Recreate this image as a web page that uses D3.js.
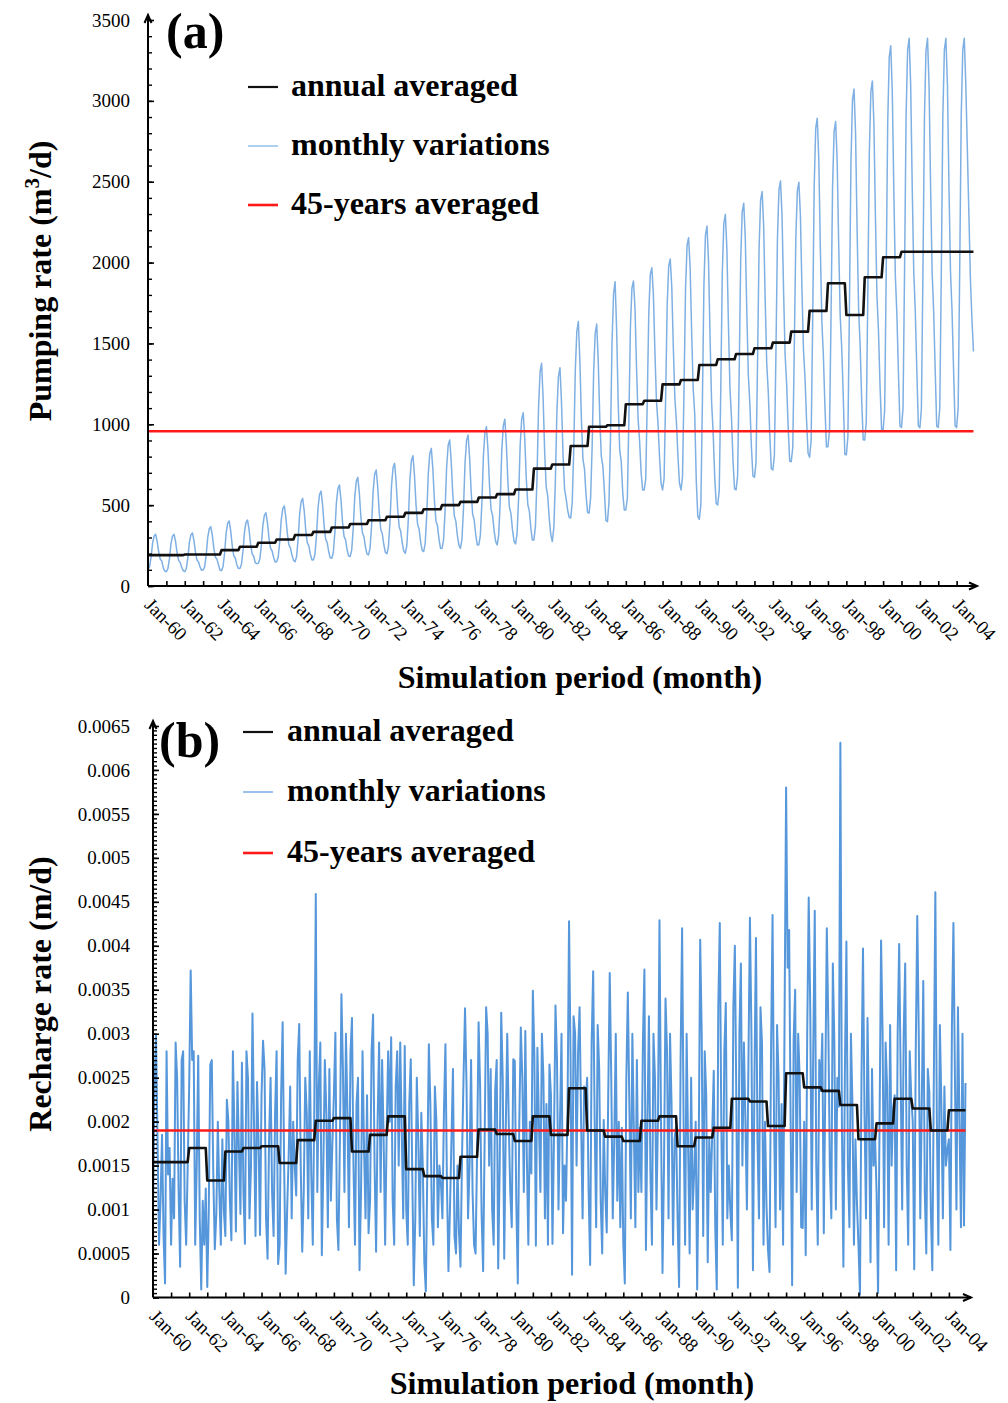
<!DOCTYPE html>
<html>
<head>
<meta charset="utf-8">
<script src="https://cdn.jsdelivr.net/npm/d3@7"></script>
<style>
  body { margin: 0; background: #fff; }
  svg { display: block; }
  text { font-family: "Liberation Serif", "Times New Roman", serif; fill: #000; }
</style>
</head>
<body>
<svg id="fig" width="1008" height="1403"></svg>
<script>
// ---- data -------------------------------------------------------------
// Simulation years (Jan-1960 .. Dec-2004), monthly steps inside each year
const years = d3.range(1960, 2005);
const tickLabels = ["Jan-60","Jan-62","Jan-64","Jan-66","Jan-68","Jan-70","Jan-72","Jan-74",
  "Jan-76","Jan-78","Jan-80","Jan-82","Jan-84","Jan-86","Jan-88","Jan-90","Jan-92","Jan-94",
  "Jan-96","Jan-98","Jan-00","Jan-02","Jan-04"];
const legendLabels = ["annual averaged", "monthly variations", "45-years averaged"];

// Pumping rate (m3/d): annual averages per year
const pumpingAnnual = [191,191,195,195,222,243,267,288,315,335,
  362,383,407,428,452,475,500,520,547,568,
  597,726,751,866,985,994,1124,1146,1247,1274,
  1367,1402,1435,1470,1505,1573,1701,1872,1676,1909,
  2033,2067,2067,2067,2067];

// Pumping rate (m3/d): monthly values, one row per year (Jan..Dec)
const pumpingMonthly = [
  [100,118,177,265,309,320,276,210,166,155,110,92],
  [88,107,169,262,308,320,274,204,158,146,116,95],
  [88,107,172,268,316,328,280,208,160,148,117,97],
  [99,120,193,300,354,367,313,233,179,166,131,97],
  [95,120,202,325,387,402,341,249,187,172,132,108],
  [109,133,214,333,393,408,348,258,199,184,145,138],
  [140,165,250,375,437,453,390,296,234,218,178,149],
  [150,178,271,409,478,495,426,322,254,236,191,160],
  [150,181,287,444,522,542,464,346,268,248,197,162],
  [161,195,310,481,566,587,502,374,289,268,212,174],
  [171,207,330,512,602,625,534,398,307,285,225,185],
  [182,221,354,550,648,672,574,427,329,305,241,197],
  [192,234,376,586,691,717,612,455,350,323,255,208],
  [199,244,395,619,731,759,647,479,367,339,266,216],
  [202,250,413,655,776,806,685,504,383,353,274,220],
  [213,264,436,692,819,851,723,532,404,373,290,232],
  [233,287,468,736,870,903,769,568,434,401,313,253],
  [233,289,478,759,899,934,794,584,443,408,317,254],
  [254,312,510,802,948,985,839,620,473,437,342,276],
  [254,316,526,837,992,1031,876,643,487,448,347,277],
  [260,325,544,869,1031,1072,910,666,504,463,357,284],
  [285,372,667,1104,1322,1377,1159,831,613,558,416,318],
  [275,361,651,1081,1296,1350,1135,813,598,544,470,425],
  [420,517,845,1331,1574,1635,1392,1028,785,724,566,456],
  [450,544,860,1328,1562,1620,1386,1035,801,743,590,405],
  [398,517,917,1511,1808,1882,1585,1140,843,769,576,470],
  [470,541,1036,1603,1844,1886,1716,1348,1036,895,700,594],
  [594,663,1144,1693,1927,1968,1803,1446,1144,1006,800,635],
  [594,665,1165,1736,1979,2022,1851,1479,1165,1022,808,637],
  [594,672,1218,1842,2107,2154,1967,1561,1218,1062,650,430],
  [412,503,1138,1863,2172,2226,2008,1537,1138,956,684,510],
  [501,591,1220,1939,2244,2298,2082,1615,1220,1040,771,600],
  [594,683,1303,2012,2314,2367,2154,1693,1303,1126,860,680],
  [672,760,1379,2086,2386,2439,2227,1768,1379,1202,937,725],
  [717,806,1432,2147,2451,2505,2290,1826,1432,1253,985,771],
  [769,855,1460,2151,2445,2497,2290,1840,1460,1287,1028,821],
  [796,901,1635,2474,2830,2893,2641,2096,1635,1425,1111,859],
  [862,963,1666,2470,2812,2872,2631,2108,1666,1465,1164,815],
  [810,923,1715,2620,3005,3073,2801,2213,1715,1489,1149,905],
  [903,1014,1791,2679,3056,3123,2857,2279,1791,1569,1236,970],
  [965,1084,1915,2866,3270,3341,3056,2438,1915,1678,1321,990],
  [980,1100,1943,2906,3315,3387,3098,2472,1943,1702,1341,990],
  [978,1095,1940,2900,3310,3387,3095,2470,1940,1700,1340,988],
  [980,1100,1943,2906,3315,3387,3098,2472,1943,1702,1341,990],
  [980,1100,1943,2906,3315,3387,3098,2700,2300,1900,1650,1450]
];
const pumpingMean45 = 957;
const pumpingTicks = [0,500,1000,1500,2000,2500,3000,3500];

// Recharge rate (m/d): annual averages per year
const rechargeAnnual = [0.00154,0.00154,0.0017,0.00133,0.00166,0.0017,0.00172,0.00153,0.00179,0.00201,
  0.00204,0.00166,0.00185,0.00206,0.00146,0.00138,0.00136,0.0016,0.00191,0.00186,
  0.00178,0.00206,0.00185,0.00238,0.0019,0.00183,0.00178,0.00201,0.00206,0.00172,
  0.00182,0.00193,0.00226,0.00223,0.00195,0.00255,0.00239,0.00235,0.00219,0.0018,
  0.00198,0.00226,0.00215,0.0019,0.00213];

// Recharge rate (m/d): monthly values, one row per year (Jan..Dec)
const rechargeMonthly = [
  [0.00099,0.0024,0.00298,0.0018,0.0006,0.0011,0.00185,0.0007,0.00016,0.0028,0.0014,0.0017],
  [0.0006,0.00135,0.0009,0.0029,0.0025,0.0012,0.00035,0.0027,0.0028,0.0011,0.0006,0.00148],
  [0.0024,0.00372,0.0027,0.0028,0.0006,0.0015,0.00275,0.0009,0.00009,0.0011,0.0006,0.00124],
  [0.00012,0.001,0.00265,0.0027,0.0014,0.00055,0.00095,0.002,0.0012,0.0006,0.0018,0.00099],
  [0.0007,0.00225,0.002,0.0011,0.00065,0.0028,0.0019,0.00075,0.00245,0.0017,0.00095,0.00267],
  [0.0012,0.00061,0.0028,0.0025,0.0009,0.0015,0.00323,0.002,0.0007,0.00245,0.0018,0.00071],
  [0.0023,0.00292,0.0026,0.0009,0.00044,0.0018,0.0025,0.0012,0.0007,0.0021,0.0028,0.00038],
  [0.0006,0.0023,0.00313,0.0015,0.00027,0.001,0.0016,0.0024,0.0009,0.002,0.0015,0.00116],
  [0.0027,0.00311,0.0015,0.00052,0.0012,0.0025,0.0021,0.0009,0.0028,0.0014,0.0006,0.00215],
  [0.00459,0.0012,0.0024,0.0029,0.00048,0.0015,0.0027,0.0021,0.0008,0.0026,0.0011,0.00175],
  [0.0023,0.00301,0.0009,0.00054,0.0018,0.00345,0.0026,0.0012,0.003,0.0021,0.0008,0.00278],
  [0.00318,0.0015,0.0006,0.0022,0.0025,0.00031,0.0012,0.0028,0.0017,0.0009,0.0023,0.00073],
  [0.0011,0.0028,0.00322,0.0015,0.00052,0.002,0.0029,0.0012,0.0027,0.0018,0.0006,0.00186],
  [0.0028,0.002,0.00296,0.0011,0.0006,0.0024,0.0028,0.0015,0.0029,0.0019,0.0009,0.00286],
  [0.001,0.0006,0.0022,0.00271,0.0014,0.00014,0.0009,0.0025,0.0018,0.0007,0.0021,0.00147],
  [0.0004,0.00007,0.0015,0.00288,0.0022,0.0009,0.0006,0.0024,0.002,0.0008,0.0015,0.00131],
  [0.0009,0.0021,0.00288,0.0013,0.0003,0.001,0.0018,0.0026,0.0007,0.0005,0.0015,0.00074],
  [0.00035,0.0016,0.0025,0.00329,0.0024,0.0009,0.0015,0.0027,0.0012,0.0006,0.0005,0.00166],
  [0.00313,0.0024,0.00094,0.0003,0.0018,0.0033,0.003,0.0015,0.0026,0.001,0.0006,0.00235],
  [0.0027,0.00033,0.0015,0.00324,0.0025,0.00044,0.0019,0.003,0.002,0.0012,0.0008,0.00271],
  [0.00269,0.0011,0.00016,0.002,0.00307,0.0025,0.0012,0.00303,0.0016,0.0006,0.002,0.00141],
  [0.00349,0.00275,0.00059,0.00284,0.002,0.0012,0.003,0.0025,0.0009,0.0022,0.0006,0.00265],
  [0.0023,0.00061,0.0018,0.00332,0.0027,0.001,0.002,0.003,0.00073,0.0015,0.0011,0.00214],
  [0.00428,0.00271,0.00026,0.0032,0.00301,0.0015,0.0028,0.0033,0.002,0.0009,0.0024,0.0022],
  [0.0025,0.0012,0.00037,0.0029,0.00371,0.002,0.0008,0.0031,0.0026,0.0011,0.0005,0.00202],
  [0.0012,0.00074,0.0023,0.00369,0.0025,0.0009,0.0018,0.003,0.0011,0.002,0.0008,0.00193],
  [0.0006,0.00016,0.0025,0.00347,0.0022,0.0009,0.003,0.0019,0.0008,0.0027,0.0012,0.00193],
  [0.0012,0.0029,0.00373,0.00054,0.002,0.0032,0.0014,0.0006,0.003,0.0025,0.001,0.00205],
  [0.00429,0.002,0.00028,0.0015,0.0034,0.0028,0.0009,0.003,0.0022,0.0006,0.0018,0.00195],
  [0.0009,0.00012,0.0027,0.0042,0.002,0.0006,0.003,0.0017,0.0005,0.0025,0.001,0.00142],
  [0.002,0.00009,0.0016,0.00407,0.003,0.0007,0.0028,0.0023,0.0004,0.0018,0.0012,0.00188],
  [0.00258,0.0008,0.00009,0.0033,0.00426,0.002,0.0006,0.0028,0.00335,0.0009,0.0015,0.00098],
  [0.00065,0.0033,0.004,0.0022,0.00011,0.003,0.0038,0.0015,0.0029,0.002,0.001,0.00266],
  [0.00432,0.003,0.00031,0.0025,0.00409,0.0018,0.0009,0.0033,0.0029,0.0006,0.002,0.00104],
  [0.00054,0.00029,0.0028,0.00435,0.002,0.0008,0.0031,0.0025,0.001,0.0022,0.0006,0.00322],
  [0.0058,0.00375,0.00418,0.002,0.00014,0.00294,0.0035,0.0012,0.003,0.0025,0.0008,0.00079],
  [0.002,0.00048,0.003,0.00455,0.0033,0.001,0.0028,0.0044,0.0015,0.0006,0.0027,0.00235],
  [0.003,0.00073,0.0024,0.0042,0.0031,0.0015,0.0009,0.0038,0.0029,0.001,0.0025,0.00217],
  [0.00631,0.002,0.00035,0.0026,0.00405,0.0015,0.0008,0.003,0.0022,0.0006,0.0018,0.00107],
  [0.0006,0.00003,0.0025,0.00397,0.0021,0.0009,0.00318,0.002,0.0004,0.0026,0.0015,0.00182],
  [0.0012,0.00005,0.002,0.00406,0.003,0.0008,0.0029,0.0024,0.0006,0.0031,0.0015,0.00215],
  [0.0023,0.00031,0.003,0.00402,0.0025,0.001,0.003,0.0038,0.0015,0.0006,0.0028,0.00229],
  [0.002,0.00032,0.0028,0.00434,0.003,0.0009,0.0022,0.0036,0.0012,0.0005,0.0026,0.00234],
  [0.001,0.00031,0.0025,0.00461,0.002,0.0006,0.0031,0.0022,0.0009,0.0024,0.0015,0.00168],
  [0.0018,0.00054,0.0031,0.00426,0.0025,0.001,0.0033,0.002,0.0008,0.003,0.00082,0.00244]
];
const rechargeMean45 = 0.0019;
const rechargeTicks = [0,0.0005,0.001,0.0015,0.002,0.0025,0.003,0.0035,0.004,0.0045,0.005,0.0055,0.006,0.0065];
const rechargeTickText = ["0","0.0005","0.001","0.0015","0.002","0.0025","0.003","0.0035","0.004","0.0045","0.005","0.0055","0.006","0.0065"];

// ---- drawing ----------------------------------------------------------
const svg = d3.select("#fig");
const BLACK = "#111", RED = "#ff1a1a";

function drawPanel(p) {
  const g = svg.append("g");
  const nYears = years.length;
  const x = d3.scaleLinear().domain([0, nYears]).range([p.x0, p.x1]);
  const y = d3.scaleLinear().domain([0, p.yMax]).range([p.yBase, p.yTop]);

  const monthly = p.monthly.flat();
  const annualMonthly = p.annual.flatMap(v => d3.range(12).map(() => v));
  const line = d3.line().x((d, i) => x(i / 12)).y(d => y(d));

  // monthly variations
  g.append("path").datum(monthly).attr("d", line)
    .attr("fill", "none").attr("stroke", p.blue).attr("stroke-width", p.blueWidth)
    .attr("stroke-linejoin", "round");

  // 45-year mean
  const meanPts = [0, monthly.length - 1];
  g.append("path").datum(meanPts)
    .attr("d", d3.line().x(i => x(i / 12)).y(() => y(p.mean)))
    .attr("fill", "none").attr("stroke", RED).attr("stroke-width", 2.6);

  // annual averages (held over each month of the year)
  g.append("path").datum(annualMonthly).attr("d", line)
    .attr("fill", "none").attr("stroke", BLACK).attr("stroke-width", 2.6)
    .attr("stroke-linejoin", "round");

  // y axis: major ticks with labels, minor ticks, both inside
  const yMajor = d3.axisLeft(y).tickValues(p.yTicks).tickSize(-6).tickPadding(p.labelPad)
    .tickFormat((d, i) => p.yTickText[i]);
  const ya = g.append("g").attr("transform", `translate(${p.x0},0)`).call(yMajor);
  ya.select(".domain").remove();
  ya.selectAll("line").attr("stroke", "#000").attr("stroke-width", 1.6);
  ya.selectAll("text").attr("font-size", 19).style("font-family", "Liberation Serif");

  const minorVals = d3.range(0, p.yMax + p.minorStep / 2, p.minorStep);
  const yMinor = d3.axisLeft(y).tickValues(minorVals).tickSize(-4).tickFormat("");
  const ym = g.append("g").attr("transform", `translate(${p.x0},0)`).call(yMinor);
  ym.select(".domain").remove();
  ym.selectAll("line").attr("stroke", "#000").attr("stroke-width", 1.4);

  // x axis: yearly ticks, two-year rotated labels
  const xTicks = d3.axisBottom(x).tickValues(d3.range(1, nYears)).tickSize(-5).tickFormat("");
  const xt = g.append("g").attr("transform", `translate(0,${p.yBase})`).call(xTicks);
  xt.select(".domain").remove();
  xt.selectAll("line").attr("stroke", "#000").attr("stroke-width", 1.6);

  const xLab = d3.axisBottom(x).tickValues(d3.range(0, nYears, 2)).tickSize(0)
    .tickFormat((d, i) => tickLabels[i]);
  const xl = g.append("g").attr("transform", `translate(0,${p.yBase})`).call(xLab);
  xl.select(".domain").remove();
  xl.selectAll("text")
    .attr("x", 0).attr("y", 0).attr("dy", 0)
    .attr("text-anchor", "start")
    .attr("transform", "translate(-5,20) rotate(45)")
    .attr("font-size", 19).style("font-family", "Liberation Serif");

  // axis lines with open arrow heads
  const ax = g.append("g").attr("stroke", "#000").attr("stroke-width", 2).attr("fill", "none");
  ax.append("path").attr("d", `M${p.x0},${p.yBase} L${p.x0},${p.yTip}`);
  ax.append("path").attr("d", `M${p.x0},${p.yBase} L${p.xTip},${p.yBase}`);
  ax.append("path").attr("d", `M${p.x0 - 3.5},${p.yTip + 8} L${p.x0},${p.yTip} L${p.x0 + 3.5},${p.yTip + 8}`);
  ax.append("path").attr("d", `M${p.xTip - 8},${p.yBase - 3.5} L${p.xTip},${p.yBase} L${p.xTip - 8},${p.yBase + 3.5}`);

  // axis titles
  const yt = g.append("text")
    .attr("transform", `translate(${p.yTitleX},${p.yTitleY}) rotate(-90)`)
    .attr("text-anchor", "middle").attr("font-size", 32).attr("font-weight", "bold");
  p.yTitle.forEach(part => {
    const ts = yt.append("tspan").text(part.t);
    if (part.sup) ts.attr("font-size", 21).attr("dy", -12);
    if (part.after) ts.attr("dy", 12);
  });

  g.append("text").attr("x", p.xTitleX).attr("y", p.xTitleY)
    .attr("text-anchor", "middle").attr("font-size", 32).attr("font-weight", "bold")
    .text("Simulation period (month)");

  // panel tag
  g.append("text").attr("x", p.tagX).attr("y", p.tagY)
    .attr("font-size", 50).attr("font-weight", "bold").text(p.tag);

  // legend
  const legColors = [BLACK, p.legendBlue, RED];
  const legWidths = [2.2, 1.6, 2.6];
  legendLabels.forEach((lab, i) => {
    const ly = p.legendY[i];
    g.append("line").attr("x1", p.legendX0).attr("x2", p.legendX0 + 30)
      .attr("y1", ly).attr("y2", ly)
      .attr("stroke", legColors[i]).attr("stroke-width", legWidths[i]);
    g.append("text").attr("x", p.legendTextX).attr("y", ly + 9)
      .attr("font-size", 32).attr("font-weight", "bold").text(lab);
  });
}

drawPanel({
  monthly: pumpingMonthly, annual: pumpingAnnual, mean: pumpingMean45,
  x0: 148, x1: 975, xTip: 977, yBase: 586, yTop: 20, yTip: 15, yMax: 3500,
  yTicks: pumpingTicks, yTickText: pumpingTicks.map(String), minorStep: 100, labelPad: 18,
  blue: "#7fb0e3", blueWidth: 1.5, legendBlue: "#9cc3ea",
  yTitle: [{t: "Pumping rate (m"}, {t: "3", sup: true}, {t: "/d)", after: true}],
  yTitleX: 51, yTitleY: 281,
  xTitleX: 580, xTitleY: 688,
  tag: "(a)", tagX: 166, tagY: 48,
  legendX0: 248, legendTextX: 291, legendY: [87, 146, 205]
});

drawPanel({
  monthly: rechargeMonthly, annual: rechargeAnnual, mean: rechargeMean45,
  x0: 153, x1: 967, xTip: 971, yBase: 1297.5, yTop: 726, yTip: 721, yMax: 0.0065,
  yTicks: rechargeTicks, yTickText: rechargeTickText, minorStep: 0.00005, labelPad: 23,
  blue: "#5597da", blueWidth: 2, legendBlue: "#7fb2e5",
  yTitle: [{t: "Recharge rate (m/d)"}],
  yTitleX: 51, yTitleY: 994,
  xTitleX: 572, xTitleY: 1394,
  tag: "(b)", tagX: 159, tagY: 757,
  legendX0: 243, legendTextX: 287, legendY: [732, 792, 853]
});
</script>
</body>
</html>
